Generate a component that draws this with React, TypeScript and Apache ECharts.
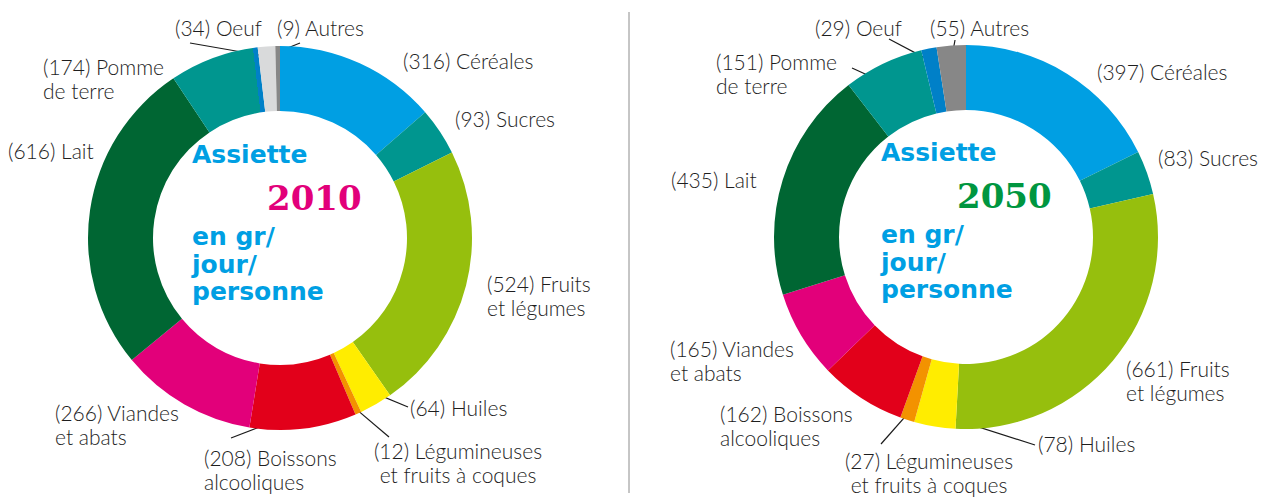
import React, { useEffect, useRef } from "react";
import * as echarts from "echarts";

// ---------- data ----------
const categories = [
  "Céréales",
  "Sucres",
  "Fruits\net légumes",
  "Huiles",
  "Légumineuses\net fruits à coques",
  "Boissons\nalcooliques",
  "Viandes\net abats",
  "Lait",
  "Pomme\nde terre",
  "Oeuf",
  "Autres",
];
const values2010 = [316, 93, 524, 64, 12, 208, 266, 616, 174, 34, 9];
const values2050 = [397, 83, 661, 78, 27, 162, 165, 435, 151, 29, 55];
const years = ["2010", "2050"];
const centerTitle = "Assiette";
const centerUnit = ["en gr/", "jour/", "personne"];

// ---------- styles / layout ----------
const BASE_COLORS = [
  "#009fe3", "#00968f", "#96bf0d", "#ffed00", "#f39200", "#e2001a",
  "#e2007a", "#006633", "#00968f", "#0080c8", "#878787",
];
const COLORS_2010 = BASE_COLORS.map((c, i) => (i === 9 ? "#d9dadb" : c));
const COLORS_2050 = BASE_COLORS;

const CHARTS = [
  { cx: 280, cy: 238, yearColor: "#e2007a", textX: 192, yearX: 267, base: [163, 210, 245, 273, 300] },
  { cx: 966, cy: 237, yearColor: "#009640", textX: 881, yearX: 957, base: [161, 208, 243, 271, 298] },
];
const R_IN = 127;
const R_OUT = 192;

// label anchor: [x, firstLineCenterY, align]
const LABELS: [number, number, string][][] = [
  [
    [403, 60, "left"], [455, 118, "left"], [487, 283, "left"], [410, 407, "left"],
    [458, 450, "center"], [204, 457, "left"], [55, 412, "left"], [8, 150, "left"],
    [43, 66, "left"], [175, 27, "left"], [277, 27, "left"],
  ],
  [
    [1097, 71, "left"], [1158, 157, "left"], [1126, 368, "left"], [1038, 443, "left"],
    [929, 460, "center"], [720, 413, "left"], [670, 348, "left"], [671, 179, "left"],
    [716, 61, "left"], [815, 27, "left"], [930, 27, "left"],
  ],
];
// leader lines: [dataIndex, radius of start, endX, endY]
const LEADERS: [number, number, number, number][][] = [
  [[9, 182, 190, 43], [10, 186, 300, 43], [3, 176, 408, 407], [4, 188, 389, 437], [5, 174, 231, 438]],
  [[9, 179, 889, 39], [10, 181, 955, 40], [8, 166, 852, 68], [3, 179, 1035, 445], [4, 183, 881, 444]],
];

const LABEL_FONT = { fontFamily: "Lato", fontSize: 21, fontWeight: 300, color: "#1e1e1e", lineHeight: 24 };

function polar(cx: number, cy: number, r: number, deg: number) {
  const a = (deg * Math.PI) / 180;
  return [cx + r * Math.sin(a), cy - r * Math.cos(a)];
}
function midAngle(vals: number[], idx: number) {
  const total = vals.reduce((a, b) => a + b, 0);
  let before = 0;
  for (let i = 0; i < idx; i++) before += vals[i];
  return ((before + vals[idx] / 2) / total) * 360;
}
function endAngle(vals: number[], idx: number) {
  const total = vals.reduce((a, b) => a + b, 0);
  let s = 0;
  for (let i = 0; i <= idx; i++) s += vals[i];
  return (s / total) * 360;
}

export default function App() {
  const ref = useRef<HTMLDivElement>(null);
  useEffect(() => {
    if (!ref.current) return;
    const chart = echarts.init(ref.current, undefined, { renderer: "svg" });
    const valueSets = [values2010, values2050];
    const colorSets = [COLORS_2010, COLORS_2050];

    // thin blue strip at the end of the 2010 "Pomme de terre" slice
    const c0 = CHARTS[0];
    const th = (endAngle(values2010, 8) * Math.PI) / 180;
    const p0x = c0.cx + 160 * Math.sin(th);
    const p0y = c0.cy - 160 * Math.cos(th);
    const p1x = p0x - 30 * Math.cos(th);
    const p1y = p0y - 30 * Math.sin(th);
    const pommeGrad = new echarts.graphic.LinearGradient(
      p0x, p0y, p1x, p1y,
      [
        { offset: 0, color: "#0080c8" },
        { offset: 0.16, color: "#0080c8" },
        { offset: 0.16, color: "#00968f" },
        { offset: 1, color: "#00968f" },
      ],
      true
    );

    const series = CHARTS.map((c, s) => ({
      type: "pie",
      center: [c.cx, c.cy],
      radius: [R_IN, R_OUT],
      startAngle: 90,
      clockwise: true,
      silent: true,
      avoidLabelOverlap: false,
      emphasis: { disabled: true },
      label: {
        show: true,
        position: "outside",
        formatter: (p: any) => `(${p.value}) ${p.name}`,
        ...LABEL_FONT,
      },
      labelLine: { show: false },
      labelLayout: (params: any) => {
        const L = LABELS[s][params.dataIndex];
        return { x: L[0], y: L[1] - 12, align: L[2], verticalAlign: "top" };
      },
      itemStyle: { borderWidth: 0 },
      data: categories.map((name, i) => ({
        name,
        value: valueSets[s][i],
        itemStyle: { color: s === 0 && i === 8 ? pommeGrad : colorSets[s][i] },
      })),
    }));

    const graphics: any[] = [];
    graphics.push({
      type: "line",
      silent: true,
      shape: { x1: 629, y1: 12, x2: 629, y2: 493 },
      style: { stroke: "#8c8c8c", lineWidth: 1 },
    });
    CHARTS.forEach((c, s) => {
      const blue = "#009fe3";
      const f = 'bold 25px "DejaVu Sans"';
      graphics.push({
        type: "text", silent: true, x: c.textX, y: c.base[0] - 8.7,
        style: { text: centerTitle, fill: blue, font: f, textAlign: "left", textVerticalAlign: "middle" },
      });
      graphics.push({
        type: "text", silent: true, x: c.yearX, y: c.base[1] - 11.8,
        style: { text: years[s], fill: c.yearColor, font: 'bold 34px "DejaVu Serif"', textAlign: "left", textVerticalAlign: "middle" },
      });
      centerUnit.forEach((t, k) => {
        graphics.push({
          type: "text", silent: true, x: c.textX, y: c.base[2 + k] - 8.7,
          style: { text: t, fill: blue, font: f, textAlign: "left", textVerticalAlign: "middle" },
        });
      });
      LEADERS[s].forEach(([idx, r, ex, ey]) => {
        const [sx, sy] = polar(c.cx, c.cy, r, midAngle(valueSets[s], idx));
        graphics.push({
          type: "line", silent: true,
          shape: { x1: sx, y1: sy, x2: ex, y2: ey },
          style: { stroke: "#1a1a1a", lineWidth: 1.2 },
        });
      });
    });

    chart.setOption({
      animation: false,
      backgroundColor: "#ffffff",
      series,
      graphic: { elements: graphics },
    });
    return () => chart.dispose();
  }, []);
  return (
    <div
      ref={ref}
      style={{ position: "absolute", left: 0, top: 0, width: 1275, height: 497, background: "#fff" }}
    />
  );
}
